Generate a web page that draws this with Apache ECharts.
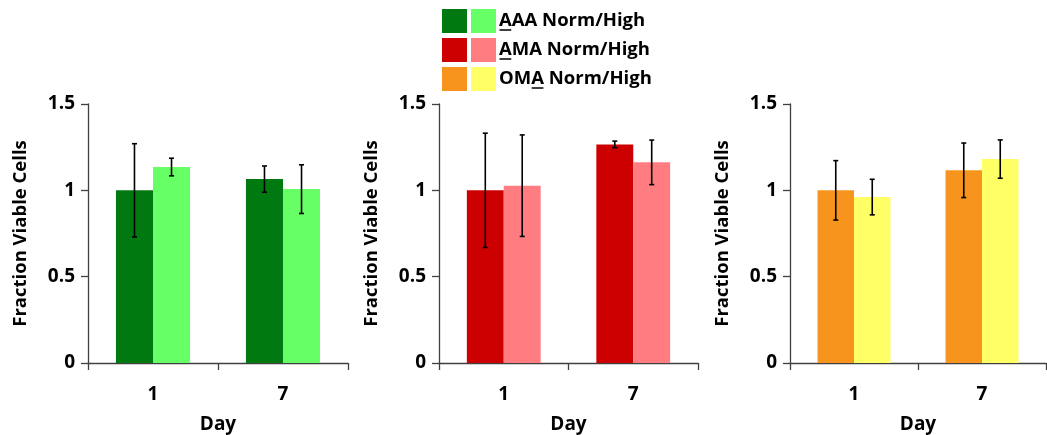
<!DOCTYPE html>
<html>
<head>
<meta charset="utf-8">
<script src="https://cdn.jsdelivr.net/npm/echarts@6/dist/echarts.min.js"></script>
<style>
html,body{margin:0;padding:0;background:#fff;}
#chart{width:1047px;height:435px;}
</style>
</head>
<body>
<div id="chart"></div>
<script>
// ---- data ----
const days = ['1', '7'];
const yTicks = [0, 0.5, 1, 1.5];

const aaaNorm = [1.00, 1.065];
const aaaNormErr = [0.27, 0.076];
const aaaHigh = [1.135, 1.007];
const aaaHighErr = [0.051, 0.141];

const amaNorm = [1.00, 1.266];
const amaNormErr = [0.331, 0.019];
const amaHigh = [1.027, 1.162];
const amaHighErr = [0.294, 0.129];

const omaNorm = [1.00, 1.116];
const omaNormErr = [0.172, 0.158];
const omaHigh = [0.961, 1.181];
const omaHighErr = [0.103, 0.111];

const legendLabels = ['AAA Norm/High', 'AMA Norm/High', 'OMA Norm/High'];
const legendUnderlineIdx = [0, 0, 2];

const colors = {
  aaaN: '#007A10', aaaH: '#66FF66',
  amaN: '#CC0000', amaH: '#FF7C80',
  omaN: '#F7941D', omaH: '#FFFF66'
};

const FONT = '"Open Sans", sans-serif';
const axisColor = '#404040';
const BAR_W = 0.285;

const panels = [
  {left: 88, right: 699, norm: aaaNorm, normErr: aaaNormErr, high: aaaHigh, highErr: aaaHighErr, cN: colors.aaaN, cH: colors.aaaH},
  {left: 439, right: 349, norm: amaNorm, normErr: amaNormErr, high: amaHigh, highErr: amaHighErr, cN: colors.amaN, cH: colors.amaH},
  {left: 790, right: 1, norm: omaNorm, normErr: omaNormErr, high: omaHigh, highErr: omaHighErr, cN: colors.omaN, cH: colors.omaH}
];

const grids = [], xAxes = [], yAxes = [], series = [];

function errRender(sign) {
  return function (params, api) {
    const x = api.value(0), v = api.value(1), e = api.value(2);
    const band = api.size([1, 0])[0];
    const off = sign * band * BAR_W / 2;
    const top = api.coord([x, v + e]);
    const bot = api.coord([x, v - e]);
    const cx = top[0] + off;
    const cap = 2.5;
    const st = {stroke: '#000', lineWidth: 1.6};
    return {type: 'group', children: [
      {type: 'line', shape: {x1: cx, y1: top[1], x2: cx, y2: bot[1]}, style: st},
      {type: 'line', shape: {x1: cx - cap, y1: top[1], x2: cx + cap, y2: top[1]}, style: st},
      {type: 'line', shape: {x1: cx - cap, y1: bot[1], x2: cx + cap, y2: bot[1]}, style: st}
    ]};
  };
}

panels.forEach((p, i) => {
  grids.push({left: p.left, right: p.right, top: 104, bottom: 72, containLabel: false, outerBoundsMode: 'none'});
  xAxes.push({
    type: 'category', gridIndex: i, data: days,
    name: 'Day', nameLocation: 'middle', nameGap: 52,
    nameTextStyle: {fontFamily: FONT, fontWeight: 'bold', fontSize: 19, color: '#000'},
    axisLine: {lineStyle: {color: axisColor, width: 1.3}},
    axisTick: {show: true, length: 7, lineStyle: {color: axisColor, width: 1.3}},
    axisLabel: {fontFamily: FONT, fontWeight: 'bold', fontSize: 19, color: '#000', margin: 22}
  });
  yAxes.push({
    type: 'value', gridIndex: i, min: yTicks[0], max: yTicks[yTicks.length - 1], interval: 0.5,
    name: 'Fraction Viable Cells', nameLocation: 'middle', nameGap: 58,
    nameTextStyle: {fontFamily: FONT, fontWeight: 'bold', fontSize: 18.5, color: '#000'},
    axisLine: {show: true, lineStyle: {color: axisColor, width: 1.3}},
    axisTick: {show: true, length: 7, lineStyle: {color: axisColor, width: 1.3}},
    axisLabel: {fontFamily: FONT, fontWeight: 'bold', fontSize: 19, color: '#000', margin: 13},
    splitLine: {show: false}
  });
  series.push({
    type: 'bar', xAxisIndex: i, yAxisIndex: i, data: p.norm,
    barWidth: (BAR_W * 100) + '%', barGap: '0%',
    itemStyle: {color: p.cN}, z: 2
  });
  series.push({
    type: 'bar', xAxisIndex: i, yAxisIndex: i, data: p.high,
    barWidth: (BAR_W * 100) + '%', barGap: '0%',
    itemStyle: {color: p.cH}, z: 2
  });
  series.push({
    type: 'custom', xAxisIndex: i, yAxisIndex: i, z: 5,
    renderItem: errRender(-1),
    data: p.norm.map((v, k) => [k, v, p.normErr[k]])
  });
  series.push({
    type: 'custom', xAxisIndex: i, yAxisIndex: i, z: 5,
    renderItem: errRender(1),
    data: p.high.map((v, k) => [k, v, p.highErr[k]])
  });
});

// legend built with graphic elements
const legendFont = 'bold 18.5px ' + FONT;
const mctx = document.createElement('canvas').getContext('2d');
mctx.font = legendFont;
const legendPairs = [[colors.aaaN, colors.aaaH], [colors.amaN, colors.amaH], [colors.omaN, colors.omaH]];
const graphics = [];
const LX = 442, LY = 9, SW = 25, SH = 24, PITCH = 29, TX = 499;
legendPairs.forEach((pair, r) => {
  const y = LY + r * PITCH;
  graphics.push({type: 'rect', left: LX, top: y, shape: {width: SW, height: SH}, style: {fill: pair[0]}});
  graphics.push({type: 'rect', left: LX + 29, top: y, shape: {width: SW, height: SH}, style: {fill: pair[1]}});
  const label = legendLabels[r];
  graphics.push({type: 'text', x: TX, y: y + SH / 2, style: {text: label, font: legendFont, fill: '#000', textVerticalAlign: 'middle'}});
  const ui = legendUnderlineIdx[r];
  const ux0 = TX + mctx.measureText(label.slice(0, ui)).width;
  const ux1 = TX + mctx.measureText(label.slice(0, ui + 1)).width;
  graphics.push({type: 'line', shape: {x1: ux0 + 0.5, y1: y + SH / 2 + 9, x2: ux1 - 0.5, y2: y + SH / 2 + 9}, style: {stroke: '#000', lineWidth: 1.5}});
});

const chart = echarts.init(document.getElementById('chart'), null, {renderer: 'canvas'});
chart.setOption({
  animation: false,
  backgroundColor: '#fff',
  grid: grids, xAxis: xAxes, yAxis: yAxes, series: series,
  graphic: graphics
});
</script>
</body>
</html>
